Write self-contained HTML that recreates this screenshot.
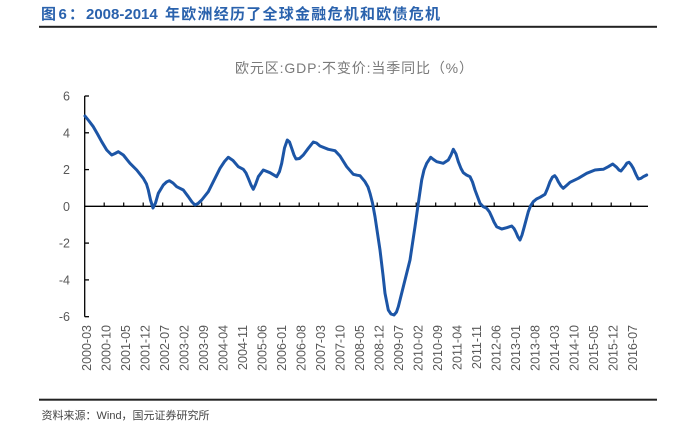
<!DOCTYPE html>
<html>
<head>
<meta charset="utf-8">
<style>
  html, body { margin: 0; padding: 0; background: #fff; }
  body { width: 696px; height: 430px; overflow: hidden; }
  svg { display: block; }
  .cjk { font-family: "Liberation Sans", "Noto Sans CJK SC", sans-serif; }
</style>
</head>
<body>
<svg width="696" height="430" viewBox="0 0 696 430" xmlns="http://www.w3.org/2000/svg">
  <rect x="0" y="0" width="696" height="430" fill="#fff"/>

  <!-- Title -->
  <g class="cjk" fill="#2a62ad" font-weight="bold" font-size="15">
    <text x="41" y="19">图</text>
    <text x="58.5" y="19">6</text>
    <text x="69" y="19">：</text>
    <text x="86" y="19">2008-2014</text>
    <text x="165" y="19" textLength="275" lengthAdjust="spacing">年欧洲经历了全球金融危机和欧债危机</text>
  </g>
  <rect x="39" y="25.8" width="618" height="2" fill="#222"/>

  <!-- Chart title -->
  <text class="cjk" x="235" y="73" font-size="14" fill="#7a7a7a" textLength="238" lengthAdjust="spacing">欧元区:GDP:不变价:当季同比（%）</text>

  <!-- Y axis -->
  <line x1="84.7" y1="96" x2="84.7" y2="316.7" stroke="#000" stroke-width="1.3"/>
  <g stroke="#000" stroke-width="1.3">
    <line x1="84.7" y1="96" x2="89" y2="96"/>
    <line x1="84.7" y1="132.8" x2="89" y2="132.8"/>
    <line x1="84.7" y1="169.6" x2="89" y2="169.6"/>
    <line x1="84.7" y1="243.1" x2="89" y2="243.1"/>
    <line x1="84.7" y1="279.9" x2="89" y2="279.9"/>
    <line x1="84.7" y1="316.7" x2="89" y2="316.7"/>
  </g>
  <g font-family="Liberation Sans, sans-serif" font-size="12.5" fill="#595959" text-anchor="end">
    <text x="70" y="100.5">6</text>
    <text x="70" y="137.3">4</text>
    <text x="70" y="174.1">2</text>
    <text x="70" y="210.8">0</text>
    <text x="70" y="247.6">-2</text>
    <text x="70" y="284.4">-4</text>
    <text x="70" y="321.2">-6</text>
  </g>

  <!-- X axis at 0 -->
  <line x1="84.7" y1="206.3" x2="648" y2="206.3" stroke="#000" stroke-width="1.3"/>
  <g stroke="#000" stroke-width="1.2">
    <line x1="104.2" y1="206.3" x2="104.2" y2="202.5"/>
    <line x1="123.7" y1="206.3" x2="123.7" y2="202.5"/>
    <line x1="143.2" y1="206.3" x2="143.2" y2="202.5"/>
    <line x1="162.7" y1="206.3" x2="162.7" y2="202.5"/>
    <line x1="182.2" y1="206.3" x2="182.2" y2="202.5"/>
    <line x1="201.7" y1="206.3" x2="201.7" y2="202.5"/>
    <line x1="221.2" y1="206.3" x2="221.2" y2="202.5"/>
    <line x1="240.7" y1="206.3" x2="240.7" y2="202.5"/>
    <line x1="260.2" y1="206.3" x2="260.2" y2="202.5"/>
    <line x1="279.7" y1="206.3" x2="279.7" y2="202.5"/>
    <line x1="299.2" y1="206.3" x2="299.2" y2="202.5"/>
    <line x1="318.7" y1="206.3" x2="318.7" y2="202.5"/>
    <line x1="338.2" y1="206.3" x2="338.2" y2="202.5"/>
    <line x1="357.7" y1="206.3" x2="357.7" y2="202.5"/>
    <line x1="377.2" y1="206.3" x2="377.2" y2="202.5"/>
    <line x1="396.7" y1="206.3" x2="396.7" y2="202.5"/>
    <line x1="416.2" y1="206.3" x2="416.2" y2="202.5"/>
    <line x1="435.7" y1="206.3" x2="435.7" y2="202.5"/>
    <line x1="455.2" y1="206.3" x2="455.2" y2="202.5"/>
    <line x1="474.7" y1="206.3" x2="474.7" y2="202.5"/>
    <line x1="494.2" y1="206.3" x2="494.2" y2="202.5"/>
    <line x1="513.7" y1="206.3" x2="513.7" y2="202.5"/>
    <line x1="533.2" y1="206.3" x2="533.2" y2="202.5"/>
    <line x1="552.7" y1="206.3" x2="552.7" y2="202.5"/>
    <line x1="572.2" y1="206.3" x2="572.2" y2="202.5"/>
    <line x1="591.7" y1="206.3" x2="591.7" y2="202.5"/>
    <line x1="611.2" y1="206.3" x2="611.2" y2="202.5"/>
    <line x1="630.7" y1="206.3" x2="630.7" y2="202.5"/>
  </g>

  <!-- X labels -->
  <g font-family="Liberation Sans, sans-serif" font-size="12.5" fill="#595959" text-anchor="end">
    <text transform="translate(91.2,325) rotate(-90)">2000-03</text>
    <text transform="translate(110.7,325) rotate(-90)">2000-10</text>
    <text transform="translate(130.2,325) rotate(-90)">2001-05</text>
    <text transform="translate(149.7,325) rotate(-90)">2001-12</text>
    <text transform="translate(169.2,325) rotate(-90)">2002-07</text>
    <text transform="translate(188.7,325) rotate(-90)">2003-02</text>
    <text transform="translate(208.2,325) rotate(-90)">2003-09</text>
    <text transform="translate(227.7,325) rotate(-90)">2004-04</text>
    <text transform="translate(247.2,325) rotate(-90)">2004-11</text>
    <text transform="translate(266.7,325) rotate(-90)">2005-06</text>
    <text transform="translate(286.2,325) rotate(-90)">2006-01</text>
    <text transform="translate(305.7,325) rotate(-90)">2006-08</text>
    <text transform="translate(325.2,325) rotate(-90)">2007-03</text>
    <text transform="translate(344.7,325) rotate(-90)">2007-10</text>
    <text transform="translate(364.2,325) rotate(-90)">2008-05</text>
    <text transform="translate(383.7,325) rotate(-90)">2008-12</text>
    <text transform="translate(403.2,325) rotate(-90)">2009-07</text>
    <text transform="translate(422.7,325) rotate(-90)">2010-02</text>
    <text transform="translate(442.2,325) rotate(-90)">2010-09</text>
    <text transform="translate(461.7,325) rotate(-90)">2011-04</text>
    <text transform="translate(481.2,325) rotate(-90)">2011-11</text>
    <text transform="translate(500.7,325) rotate(-90)">2012-06</text>
    <text transform="translate(520.2,325) rotate(-90)">2013-01</text>
    <text transform="translate(539.7,325) rotate(-90)">2013-08</text>
    <text transform="translate(559.2,325) rotate(-90)">2014-03</text>
    <text transform="translate(578.7,325) rotate(-90)">2014-10</text>
    <text transform="translate(598.2,325) rotate(-90)">2015-05</text>
    <text transform="translate(617.7,325) rotate(-90)">2015-12</text>
    <text transform="translate(637.2,325) rotate(-90)">2016-07</text>
  </g>

  <!-- Series -->
  <polyline fill="none" stroke="#1c55a6" stroke-width="3" stroke-linejoin="round" stroke-linecap="round"
    points="85,116 89,121 93.3,126.7 97.5,134 101.7,141.7 106.7,150 111.7,155 115,153.5 118.3,151.7 123.3,155 130,163.3 136.7,170 143.3,178.3 146.5,184 148.3,190 150.5,200 153,208 155.5,203 158.3,193.3 163.3,185 166.5,182 169.3,180.7 173,183 176.7,186.7 183.3,190 188.3,196.7 192,202 195,205 198,203.5 201.7,200 208.3,191.7 213.3,181.7 220,168.3 224.5,161.5 228.3,157.3 233,160.5 238.3,166.7 243.3,169.3 246,173 248.3,178.3 251,185 253.3,189.3 255.5,184.5 258.3,176.7 263.3,170 270,172.7 276.7,176.7 279.5,171.5 281.7,163.3 284.5,148 287.3,140 289.5,142 291.7,148.3 294,155 296,159 299.5,158.5 303.3,155 308.3,148.3 313.3,142 316.5,143 320,146 328.3,149.3 335,150.7 340,156 346.7,166.7 353.3,174.3 357,175.2 360,175.7 365,181.7 368,187 370,193.3 372.5,203 375,216.7 380,250 383,275 385,293.3 388.3,310 391,314 394,315 396.5,312 398.3,306.7 403.3,286.7 410,260 415,226.7 418.3,203.3 421.7,180 424,170 426.7,163.3 430.7,157.3 433.5,159.5 436.7,161.7 443.3,163.3 448.3,160 451,155 453.3,149.3 456,154 458.3,161.7 461,168.5 463.3,172.7 466.5,175 470,176.7 472.5,182 475,190 480,203.3 483,206.5 486.7,208.3 489.5,212 491.7,216.7 494,222 496.7,226.7 501.7,229 506.7,227.7 511.7,226 514,228.5 515.7,231.7 518,237 520,240 522,235 524.3,226.7 528.3,211.7 530.5,206 533.3,201.7 536.5,199 540,197.3 545,194.3 547.5,188.5 550,181.7 552.5,177 554.7,175.7 556.5,178 558.3,181.7 561,186 563.3,188.3 566.5,185.5 570,182.3 578.3,178.3 586.7,173.3 595,170 600,169.5 603.3,169.3 608.3,166.7 612.7,164 616.7,167.3 619,170 621,171 623,168.5 625,166 627,163 629,162.3 631,164.5 633.3,168.3 636,174.5 638.3,179 641,178.3 643.3,176.7 646.7,175"/>

  <!-- Bottom rule and source -->
  <rect x="39" y="398.7" width="618" height="2" fill="#222"/>
  <text class="cjk" x="41.5" y="419" font-size="11" fill="#444">资料来源：Wind，国元证券研究所</text>
</svg>
</body>
</html>
